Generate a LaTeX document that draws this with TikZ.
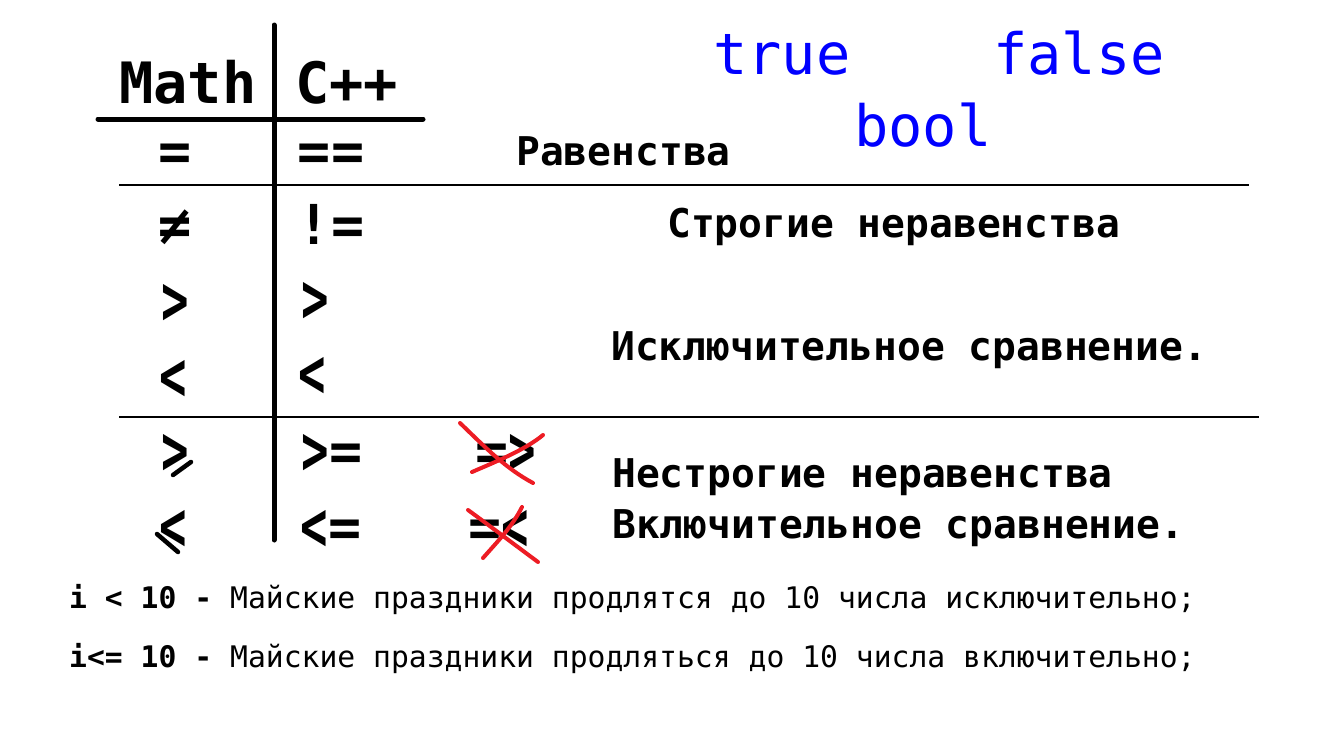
\documentclass[tikz,border=0pt]{standalone}
\usepackage{graphicx}
\usepackage{fontspec}
\setmainfont{DejaVu Sans Mono}
\definecolor{pureblue}{RGB}{0,0,255}
\definecolor{paintred}{RGB}{237,28,36}
\newcommand{\gtchev}{\raisebox{-4.5pt}{\scalebox{0.83}[1.27]{>}}}
\newcommand{\ltchev}{\raisebox{-4.5pt}{\scalebox{0.83}[1.27]{<}}}
\begin{document}
\begin{tikzpicture}[x=1pt,y=-1pt,
  hdr/.style={font=\bfseries\fontsize{57}{60}\selectfont, inner sep=0, anchor=base west},
  sym/.style={font=\bfseries\fontsize{55}{60}\selectfont, inner sep=0, anchor=base},
  lbl/.style={font=\bfseries\fontsize{39.6}{44}\selectfont, inner sep=0, anchor=base west},
  blu/.style={font=\fontsize{57}{60}\selectfont, text=pureblue, inner sep=0, anchor=base west},
  foot/.style={font=\fontsize{29.7}{32}\selectfont, inner sep=0, anchor=base west},
  heavyrule/.style={line width=5pt, line cap=round},
  lightrule/.style={line width=1.5pt},
  extrastroke/.style={line width=4.5pt, line cap=round},
  redx/.style={draw=paintred, line width=4pt, line cap=round}]
\useasboundingbox[fill=white] (0,0) rectangle (1340,728);

% table rules
\coordinate (vtop) at (274,25);
\coordinate (vbot) at (274,540);
\draw[heavyrule] (vtop) -- (vbot);
\coordinate (hl) at (98,119);
\coordinate (hr) at (423,119);
\draw[heavyrule] (hl) -- (hr);
\coordinate (t1l) at (119,185);
\coordinate (t1r) at (1249,185);
\draw[lightrule] (t1l) -- (t1r);
\coordinate (t2l) at (119,417);
\coordinate (t2r) at (1259,417);
\draw[lightrule] (t2l) -- (t2r);

% headers
\node[hdr] (math) at (119,103) {Math};
\node[hdr] (cpp) at (295,103) {C++};

% symbols
\node[sym] (m1) at (175,170) {=};
\node[sym] (c1) at (331,170) {==};
\node[sym] (m2) at (175,244) {≠};
\node[sym] (c2) at (331,244) {!=};
\node[sym] (m3) at (175.5,320) {\gtchev};
\node[sym] (c3) at (315,318) {\gtchev};
\node[sym] (m4) at (173,396) {\ltchev};
\node[sym] (c4) at (312,393) {\ltchev};
\node[sym] (m5) at (175.5,470) {\gtchev};
\node[sym] (c5) at (332,470) {\gtchev=};
\node[sym] (x5) at (506,470) {=\gtchev};
\node[sym] (m6) at (173.5,546) {\ltchev};
\node[sym] (c6) at (331,546) {\ltchev=};
\node[sym] (x6) at (499,546) {=\ltchev};

% hand-drawn extra strokes for >= and <=
\coordinate (ge1) at (173,475);
\coordinate (ge2) at (191,462);
\draw[extrastroke] (ge1) -- (ge2);
\coordinate (le1) at (157,534);
\coordinate (le2) at (178,552);
\draw[extrastroke] (le1) -- (le2);

% red crosses
\draw[redx] (460,423) .. controls (485,447) and (505,468) .. (533,483);
\draw[redx] (472,472) .. controls (495,462) and (525,450) .. (543,435);
\draw[redx] (468,510) .. controls (490,526) and (515,545) .. (538,562);
\draw[redx] (483,558) .. controls (497,542) and (512,527) .. (522,507);

% labels
\node[lbl] (eq) at (516,165) {Равенства};
\node[lbl] (strict) at (667,237) {Строгие неравенства};
\node[lbl] (excl) at (611,360) {Исключительное сравнение.};
\node[lbl] (nonstrict) at (612,487) {Нестрогие неравенства};
\node[lbl] (incl) at (612,538) {Включительное сравнение.};

% blue words
\node[blu] (true) at (713,74) {true};
\node[blu] (false) at (993,74) {false};
\node[blu] (bool) at (854,146) {bool};

% footer
\node[foot] (f1) at (69,608) {\textbf{i < 10 -} Майские праздники продлятся до 10 числа исключительно;};
\node[foot] (f2) at (69,667) {\textbf{i<= 10 -} Майские праздники продляться до 10 числа включительно;};
\end{tikzpicture}
\end{document}
